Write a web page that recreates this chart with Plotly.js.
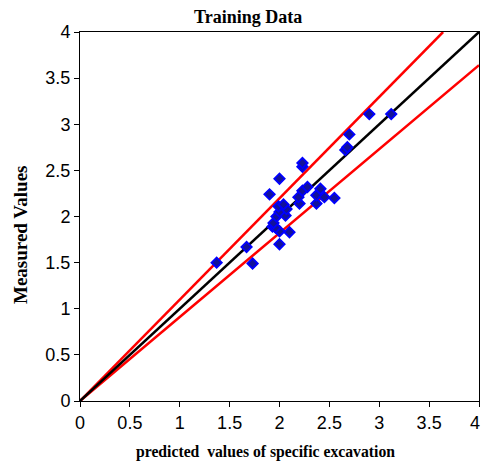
<!DOCTYPE html>
<html>
<head>
<meta charset="utf-8">
<script src="https://cdn.plot.ly/plotly-3.0.1.min.js"></script>
<style>html,body{margin:0;padding:0;background:#fff;}</style>
</head>
<body>
<div id="chart" style="width:482px;height:461px;"></div>
<script>
// Scatter data (predicted vs measured)
const predicted = [1.37, 1.73, 1.67, 2.00, 2.10, 2.00, 1.93, 1.96, 1.94, 1.97, 2.06, 2.00, 2.07, 1.99, 2.04,
  2.20, 2.19, 2.23, 2.28, 2.37, 2.37, 2.41, 2.45, 2.55, 1.90, 2.00, 2.23, 2.23, 2.66, 2.68, 2.70, 2.90, 3.12];
const measured = [1.50, 1.49, 1.67, 1.70, 1.83, 1.84, 1.89, 1.88, 1.93, 2.00, 2.01, 2.05, 2.08, 2.11, 2.13,
  2.14, 2.21, 2.28, 2.32, 2.14, 2.23, 2.30, 2.21, 2.20, 2.24, 2.41, 2.54, 2.58, 2.72, 2.75, 2.89, 3.11, 3.11];
// Reference lines (end points)
const idealX = [0, 4], idealY = [0, 4];
const upperX = [0, 3.64], upperY = [0, 4];
const lowerX = [0, 4], lowerY = [0, 3.64];
const tickVals = [0, 0.5, 1, 1.5, 2, 2.5, 3, 3.5, 4];
const tickText = ['0', '0.5', '1', '1.5', '2', '2.5', '3', '3.5', '4'];

const traces = [
  {x: upperX, y: upperY, mode: 'lines', line: {color: '#ff0000', width: 2.5}, hoverinfo: 'skip'},
  {x: lowerX, y: lowerY, mode: 'lines', line: {color: '#ff0000', width: 2.5}, hoverinfo: 'skip'},
  {x: idealX, y: idealY, mode: 'lines', line: {color: '#000000', width: 2.5}, hoverinfo: 'skip'},
  {x: predicted, y: measured, mode: 'markers', type: 'scatter',
   marker: {symbol: 'diamond', size: 8, color: '#12129a', line: {color: '#0000ff', width: 1.8}}}
];

const tickFont = {family: 'Liberation Sans, Arial', size: 18, color: '#000'};
const axisCommon = {
  range: [0, 4], tickvals: tickVals, ticks: 'outside', ticklen: 5,
  tickcolor: '#000', tickwidth: 1, showline: true, linecolor: '#000', linewidth: 1, mirror: true,
  showgrid: false, zeroline: false, tickfont: tickFont
};
// last x label is placed separately so it stays inside the page edge
const xTickText = tickText.map((t, i) => i === tickText.length - 1 ? '' : t);

const layout = {
  width: 482, height: 461,
  margin: {l: 80, r: 3, t: 32, b: 60},
  paper_bgcolor: '#fff', plot_bgcolor: '#fff',
  showlegend: false,
  xaxis: Object.assign({}, axisCommon, {ticktext: xTickText}),
  yaxis: Object.assign({}, axisCommon, {ticktext: tickText}),
  annotations: [
    {text: tickText[tickText.length - 1], xref: 'paper', yref: 'paper', x: 1, xshift: 2.5,
     y: 0, yshift: -22, xanchor: 'right', yanchor: 'middle', showarrow: false, font: tickFont},
    {text: '<b>Training Data</b>', xref: 'paper', yref: 'paper', x: (247.5 - 80) / 399, y: 1, yshift: 15,
     xanchor: 'center', yanchor: 'middle', showarrow: false,
     font: {family: 'Liberation Serif, Times New Roman', size: 18, color: '#000'}},
    {text: '<b>predicted \u00a0values of specific excavation</b>', xref: 'paper', yref: 'paper',
     x: (265.5 - 80) / 399, y: 0, yshift: -51, xanchor: 'center', yanchor: 'middle', showarrow: false,
     font: {family: 'Liberation Serif, Times New Roman', size: 15.7, color: '#000'}},
    {text: '<b>Measured Values</b>', xref: 'paper', yref: 'paper', x: 0, xshift: -60,
     y: (401 - 235) / 369, textangle: -90, xanchor: 'center', yanchor: 'middle', showarrow: false,
     font: {family: 'Liberation Serif, Times New Roman', size: 19, color: '#000'}}
  ]
};

Plotly.newPlot('chart', traces, layout, {displayModeBar: false, staticPlot: true});
</script>
</body>
</html>
